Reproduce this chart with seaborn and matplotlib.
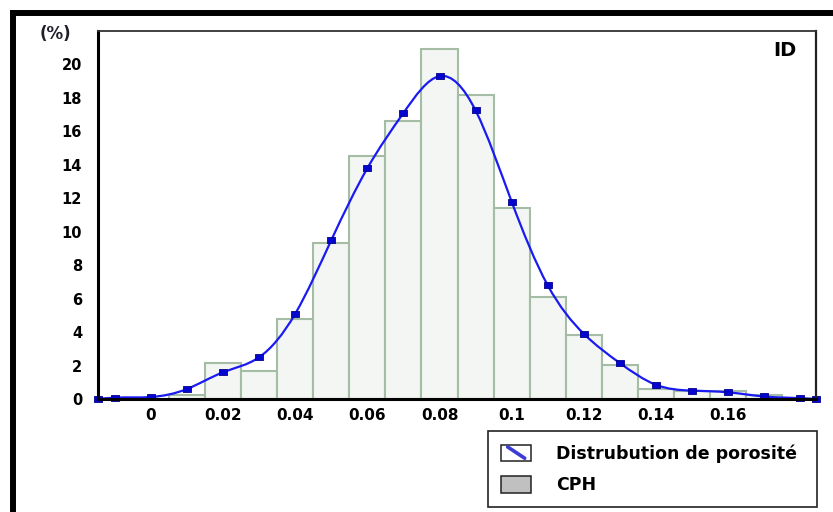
import numpy as np
import matplotlib
matplotlib.use("Agg")
import matplotlib.pyplot as plt
import seaborn as sns
from matplotlib.path import Path
from matplotlib.patches import PathPatch, Patch, Rectangle
from matplotlib.lines import Line2D
from matplotlib.legend_handler import HandlerBase

# Porosity classes (bin centres) and their frequency in %
bin_centers = [0.01, 0.02, 0.03, 0.04, 0.05, 0.06, 0.07, 0.08, 0.09,
               0.10, 0.11, 0.12, 0.13, 0.14, 0.15, 0.16, 0.17]
bin_freq = [0.25, 2.15, 1.7, 4.8, 9.3, 14.5, 16.6, 20.9, 18.2,
            11.4, 6.1, 3.8, 2.05, 0.6, 0.45, 0.5, 0.25]

# Fitted porosity distribution (%)
curve_x = [-0.0147, -0.01, 0.0, 0.01, 0.02, 0.03, 0.04, 0.05, 0.06, 0.07,
           0.08, 0.09, 0.10, 0.11, 0.12, 0.13, 0.14, 0.15, 0.16, 0.17,
           0.18, 0.1844]
curve_y = [0.0, 0.08, 0.12, 0.6, 1.6, 2.5, 5.1, 9.5, 13.8, 17.1,
           19.3, 17.25, 11.8, 6.8, 3.9, 2.15, 0.85, 0.5, 0.4, 0.15,
           0.05, 0.0]

x_ticks = [0.0, 0.02, 0.04, 0.06, 0.08, 0.10, 0.12, 0.14, 0.16]
x_tick_labels = ["0", "0.02", "0.04", "0.06", "0.08", "0.1", "0.12", "0.14", "0.16"]
y_ticks = list(range(0, 21, 2))

label_curve = "Distrubution de porosité"
label_hist = "CPH"

sns.set_style("white")
plt.rcParams["font.family"] = ["DejaVu Sans"]
plt.rcParams["font.weight"] = "bold"

LINE_BLUE = "#1a1af2"
W, H = 833, 512

fig = plt.figure(figsize=(W / 100, H / 100), dpi=100)
ax = fig.add_axes([98 / W, 1 - 399 / H, (816 - 98) / W, (399 - 31) / H])

# Histogram bars
sns.histplot(x=bin_centers, weights=bin_freq, binwidth=0.01,
             binrange=(0.005, 0.175), color="#f3f6f2", edgecolor="#a4bda4",
             linewidth=1.5, alpha=1, ax=ax, zorder=2)


def spline_slopes(x, y):
    """Knot slopes of a natural cubic spline through (x, y)."""
    n = len(x)
    h = np.diff(x)
    A = np.zeros((n, n))
    r = np.zeros(n)
    A[0, 0] = A[-1, -1] = 1.0
    for i in range(1, n - 1):
        A[i, i - 1] = h[i - 1]
        A[i, i] = 2 * (h[i - 1] + h[i])
        A[i, i + 1] = h[i]
        r[i] = 6 * ((y[i + 1] - y[i]) / h[i] - (y[i] - y[i - 1]) / h[i - 1])
    M = np.linalg.solve(A, r)
    s = np.empty(n)
    s[:-1] = (y[1:] - y[:-1]) / h - h * (2 * M[:-1] + M[1:]) / 6
    s[-1] = (y[-1] - y[-2]) / h[-1] + h[-1] * (M[-2] + 2 * M[-1]) / 6
    return s


# Smooth curve through the fitted points (cubic Bezier segments)
cx = np.asarray(curve_x)
cy = np.asarray(curve_y)
slopes = spline_slopes(cx, cy)
verts = [(cx[0], cy[0])]
codes = [Path.MOVETO]
for i in range(len(cx) - 1):
    h = cx[i + 1] - cx[i]
    verts += [(cx[i] + h / 3, cy[i] + slopes[i] * h / 3),
              (cx[i + 1] - h / 3, cy[i + 1] - slopes[i + 1] * h / 3),
              (cx[i + 1], cy[i + 1])]
    codes += [Path.CURVE4] * 3
ax.add_patch(PathPatch(Path(verts, codes), facecolor="none",
                       edgecolor=LINE_BLUE, lw=1.6, zorder=3))

# Square markers on the fitted points
rect_marker = [(-1, -0.7), (1, -0.7), (1, 0.7), (-1, 0.7), (-1, -0.7)]
sns.scatterplot(x=curve_x, y=curve_y, marker=rect_marker, s=36,
                color="#0505d0", edgecolor="#000090", linewidth=0.6,
                ax=ax, zorder=4, clip_on=False, legend=False)

ax.set_xlim(-0.0147, 0.1844)
ax.set_ylim(0, 22)
ax.set_xlabel("")
ax.set_ylabel("")

ax.set_xticks(x_ticks)
ax.set_xticklabels(x_tick_labels)
ax.set_yticks(y_ticks)
ax.set_yticklabels([str(v) for v in y_ticks])

ax.tick_params(axis="x", direction="inout", length=9.5, width=2.4,
               color="black", pad=2, labelsize=11)
ax.tick_params(axis="y", direction="out", length=2.5, width=1,
               color="#a9c2da", pad=9, labelsize=10.5)
for lab in ax.get_xticklabels() + ax.get_yticklabels():
    lab.set_fontweight("bold")
    lab.set_color("black")
for t in ax.xaxis.get_major_ticks():
    t.tick1line.set_zorder(6)

ax.spines["left"].set_linewidth(2.2)
ax.spines["bottom"].set_linewidth(2.2)
ax.spines["left"].set_color("black")
ax.spines["bottom"].set_color("black")
ax.spines["top"].set_linewidth(1.3)
ax.spines["top"].set_color("#333333")
ax.spines["right"].set_linewidth(1.6)
ax.spines["right"].set_color("#222222")
for sp in ax.spines.values():
    sp.set_zorder(5)

ax.text(0.957, 0.948, "ID", transform=ax.transAxes, ha="center",
        va="center", fontsize=14, fontweight="bold", color="black")
fig.text(55 / W, 1 - 34 / H, "(%)", ha="center", va="center",
         fontsize=12, fontweight="bold", color="#1e1e2c")

# Outer frame (top and left edges)
fig.add_artist(Line2D([13 / W, 1.0], [1 - 13 / H, 1 - 13 / H],
                      transform=fig.transFigure, lw=4.3, color="black",
                      solid_capstyle="projecting"))
fig.add_artist(Line2D([13 / W, 13 / W], [0.0, 1 - 13 / H],
                      transform=fig.transFigure, lw=4.3, color="black",
                      solid_capstyle="projecting"))


class BoxedLineHandler(HandlerBase):
    def create_artists(self, legend, orig_handle, xdescent, ydescent,
                       width, height, fontsize, trans):
        x0, y0 = -xdescent, -ydescent
        box = Rectangle((x0, y0), width, height, facecolor="white",
                        edgecolor="#222222", lw=1.1, transform=trans)
        line = Line2D([x0 + 0.22 * width, x0 + 0.78 * width],
                      [y0 + 0.85 * height, y0 + 0.15 * height],
                      color="#3b3bd6", lw=2.6, transform=trans)
        return [box, line]


curve_handle = Line2D([], [], color=LINE_BLUE)
hist_handle = Patch(facecolor="#c0c0c0", edgecolor="#222222", lw=1.1)
leg_top = 1 - 431 / H
leg = fig.legend(handles=[curve_handle, hist_handle],
                 labels=[label_curve, label_hist],
                 handler_map={Line2D: BoxedLineHandler()},
                 loc="upper left",
                 bbox_to_anchor=(488 / W, leg_top - 0.01, (817 - 488) / W, 0.01),
                 mode="expand", ncol=1,
                 prop={"family": "DejaVu Sans", "weight": "bold", "size": 12.5},
                 labelcolor="black",
                 frameon=True, fancybox=False, framealpha=1,
                 edgecolor="#222222", borderpad=0.75, labelspacing=0.8,
                 handlelength=1.75, handleheight=1.05, handletextpad=1.4,
                 borderaxespad=0)
leg.get_frame().set_linewidth(1.2)

fig.savefig("out.png", dpi=100)
